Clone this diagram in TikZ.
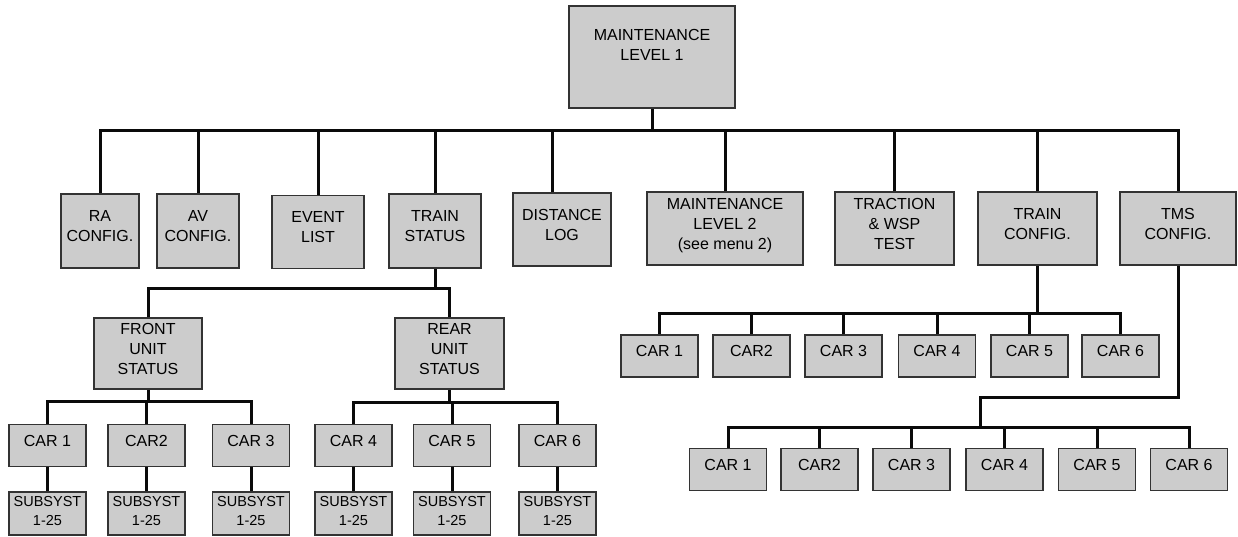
\documentclass[tikz,border=0pt]{standalone}
\usepackage{xcolor}
\usepackage{tikz}
\usepackage{fontspec}
\setmainfont{Liberation Sans}
\usetikzlibrary{positioning, calc}
\definecolor{menugray}{HTML}{CCCCCC}
\definecolor{menuedge}{HTML}{333333}
\definecolor{menuline}{HTML}{0A0A0A}

\begin{document}
\begin{tikzpicture}[
  x=1pt, y=-1pt,
  menu/.style={draw=menuedge, fill=menugray, line width=1.5pt, align=center, inner sep=1pt, text depth=10pt, font=\fontsize{16}{20}\selectfont},
  car/.style={menu, minimum width=77pt, minimum height=42pt},
  sub/.style={menu, minimum width=77pt, minimum height=43pt, text depth=5pt, font=\fontsize{14.5}{19}\selectfont},
  link/.style={line width=3pt, menuline, line join=miter}
]
\useasboundingbox (0,0) rectangle (1238,536);

% Top menu
\node[menu, minimum width=166pt, minimum height=102pt, text depth=24pt] (main) at (652,57) {MAINTENANCE\\ LEVEL 1};

% Level 2 menus
\node[menu, minimum width=78pt, minimum height=74pt] (ra) at (100,231) {RA\\ CONFIG.};
\node[menu, minimum width=82pt, minimum height=74pt] (av) at (198,231) {AV\\ CONFIG.};
\node[menu, minimum width=92pt, minimum height=73pt] (event) at (318,232) {EVENT\\ LIST};
\node[menu, minimum width=92pt, minimum height=74pt] (trainstat) at (435,231) {TRAIN\\ STATUS};
\node[menu, minimum width=98pt, minimum height=73pt] (dist) at (562,229.5) {DISTANCE\\ LOG};
\node[menu, minimum width=156pt, minimum height=73pt] (maint2) at (725,228.5) {MAINTENANCE\\ LEVEL 2\\ (see menu 2)};
\node[menu, minimum width=119pt, minimum height=73pt] (traction) at (894.5,228.5) {TRACTION\\ \& WSP\\ TEST};
\node[menu, minimum width=119pt, minimum height=73pt] (trainconf) at (1037.5,228.5) {TRAIN\\ CONFIG.};
\node[menu, minimum width=116pt, minimum height=73pt] (tms) at (1178,228.5) {TMS\\ CONFIG.};

% Train status units
\node[menu, minimum width=108pt, minimum height=71pt] (front) at (148,353.5) {FRONT\\ UNIT\\ STATUS};
\node[menu, minimum width=109pt, minimum height=71pt] (rear) at (449.5,353.5) {REAR\\ UNIT\\ STATUS};

% Unit cars
\node[car] (fc1) at (47.5,445.5) {CAR 1};
\node[car] (fc2) at (146.5,445.5) {CAR2};
\node[car] (fc3) at (251,445.5) {CAR 3};
\node[car] (rc4) at (353.5,445.5) {CAR 4};
\node[car] (rc5) at (452,445.5) {CAR 5};
\node[car] (rc6) at (557.5,445.5) {CAR 6};

% Subsystems
\node[sub] (fs1) at (47.5,513.5) {SUBSYST\\ 1-25};
\node[sub] (fs2) at (146.5,513.5) {SUBSYST\\ 1-25};
\node[sub] (fs3) at (251,513.5) {SUBSYST\\ 1-25};
\node[sub] (rs4) at (353.5,513.5) {SUBSYST\\ 1-25};
\node[sub] (rs5) at (452,513.5) {SUBSYST\\ 1-25};
\node[sub] (rs6) at (557.5,513.5) {SUBSYST\\ 1-25};

% Train config cars
\node[car] (tc1) at (659.5,356) {CAR 1};
\node[car] (tc2) at (751.5,356) {CAR2};
\node[car] (tc3) at (843.5,356) {CAR 3};
\node[car] (tc4) at (937,356) {CAR 4};
\node[car] (tc5) at (1029.5,356) {CAR 5};
\node[car] (tc6) at (1120.5,356) {CAR 6};

% TMS config cars
\node[car] (mc1) at (728,469.5) {CAR 1};
\node[car] (mc2) at (819.5,469.5) {CAR2};
\node[car] (mc3) at (911.5,469.5) {CAR 3};
\node[car] (mc4) at (1004.5,469.5) {CAR 4};
\node[car] (mc5) at (1097,469.5) {CAR 5};
\node[car] (mc6) at (1189,469.5) {CAR 6};

% Bus points
\coordinate (bus1) at (652,130);
\coordinate (bus2) at (435,288);
\coordinate (bus3) at (148,401);
\coordinate (bus4) at (449.5,402);
\coordinate (bus5) at (1037.5,313);
\coordinate (bend) at (1178,397);
\coordinate (bus6) at (980,427);

% Top menu to level 2
\draw[link] (main.south) -- (bus1);
\draw[link] (ra.north) |- (bus1);
\draw[link] (av.north) |- (bus1);
\draw[link] (event.north) |- (bus1);
\draw[link] (trainstat.north) |- (bus1);
\draw[link] ([xshift=-10pt]dist.north) |- (bus1);
\draw[link] (maint2.north) |- (bus1);
\draw[link] (traction.north) |- (bus1);
\draw[link] (trainconf.north) |- (bus1);
\draw[link] (tms.north) |- (bus1);

% Train status tree
\draw[link] (trainstat.south) -- (bus2);
\draw[link] (front.north) |- (bus2);
\draw[link] (rear.north) |- (bus2);
\draw[link] (front.south) -- (bus3);
\draw[link] (fc1.north) |- (bus3);
\draw[link] (fc2.north) |- (bus3);
\draw[link] (fc3.north) |- (bus3);
\draw[link] (rear.south) -- (bus4);
\draw[link] (rc4.north) |- (bus4);
\draw[link] (rc5.north) |- (bus4);
\draw[link] (rc6.north) |- (bus4);
\draw[link] (fc1) -- (fs1);
\draw[link] (fc2) -- (fs2);
\draw[link] (fc3) -- (fs3);
\draw[link] (rc4) -- (rs4);
\draw[link] (rc5) -- (rs5);
\draw[link] (rc6) -- (rs6);

% Train config tree
\draw[link] (trainconf.south) -- (bus5);
\draw[link] (tc1.north) |- (bus5);
\draw[link] (tc2.north) |- (bus5);
\draw[link] (tc3.north) |- (bus5);
\draw[link] (tc4.north) |- (bus5);
\draw[link] (tc5.north) |- (bus5);
\draw[link] (tc6.north) |- (bus5);

% TMS config tree
\draw[link] (tms.south) -- (bend) -| (bus6);
\draw[link] (mc1.north) |- (bus6);
\draw[link] (mc2.north) |- (bus6);
\draw[link] (mc3.north) |- (bus6);
\draw[link] (mc4.north) |- (bus6);
\draw[link] (mc5.north) |- (bus6);
\draw[link] (mc6.north) |- (bus6);

\end{tikzpicture}
\end{document}
